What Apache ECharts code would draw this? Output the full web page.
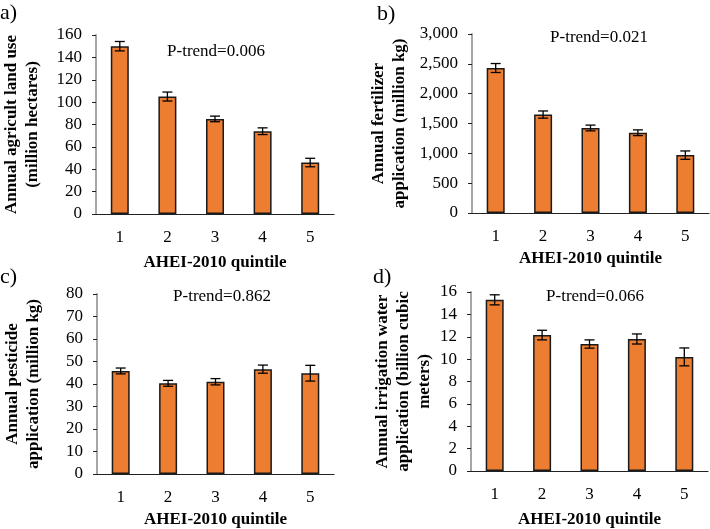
<!DOCTYPE html>
<html>
<head>
<meta charset="utf-8">
<script src="https://cdn.jsdelivr.net/npm/echarts@6/dist/echarts.min.js"></script>
<style>
    html, body { margin: 0; padding: 0; background: #fff; }
    #main { width: 710px; height: 529px; }
</style>
</head>
<body>
<div id="main"></div>
<script>
var quintiles = ['1', '2', '3', '4', '5'];

// a) land use (million hectares)
var landUse = [150, 105, 85, 74, 46];
var landUseErr = [4.2, 4, 2.5, 3, 3.8];
// b) fertilizer (million kg)
var fertilizer = [2430, 1650, 1425, 1345, 970];
var fertilizerErr = [75, 60, 48, 48, 70];
// c) pesticide (million kg)
var pesticide = [45.8, 40.3, 41.0, 46.6, 44.8];
var pesticideErr = [1.3, 1.3, 1.4, 1.8, 3.5];
// d) irrigation water (billion cubic meters)
var irrigation = [15.3, 12.15, 11.35, 11.8, 10.2];
var irrigationErr = [0.45, 0.43, 0.37, 0.45, 0.8];

var pTrends = ['P-trend=0.006', 'P-trend=0.021', 'P-trend=0.862', 'P-trend=0.066'];
var panelLabels = ['a)', 'b)', 'c)', 'd)'];
var yNames = [
    'Annual agricult land use\n(million hectares)',
    'Annual fertilizer\napplication (million kg)',
    'Annual pesticide\napplication (million kg)',
    'Annual irrigation water\napplication (billion cubic\nmeters)'
];
var yMax = [160, 3000, 80, 16];
var yStep = [20, 500, 10, 2];

var values = [landUse, fertilizer, pesticide, irrigation];
var errors = [landUseErr, fertilizerErr, pesticideErr, irrigationErr];

var font = "'Liberation Serif', 'Times New Roman', serif";
var orange = '#ED7D31';

var grids = [
    { left: 96, top: 35, width: 238, height: 179 },
    { left: 472, top: 34, width: 237, height: 179 },
    { left: 97, top: 294, width: 237, height: 182 },
    { left: 471, top: 292, width: 237, height: 183 }
];
var yNameGap = [53, 62, 53, 36];
var xNameGap = [40, 37, 37, 40];

function errorBar(params, api) {
    var x = api.coord([api.value(0), 0])[0];
    var lo = api.coord([api.value(0), api.value(1)])[1];
    var hi = api.coord([api.value(0), api.value(2)])[1];
    var cap = 5;
    var style = { stroke: '#000', lineWidth: 1.3 };
    return {
        type: 'group',
        children: [
            { type: 'line', shape: { x1: x, y1: lo, x2: x, y2: hi }, style: style },
            { type: 'line', shape: { x1: x - cap, y1: hi, x2: x + cap, y2: hi }, style: style },
            { type: 'line', shape: { x1: x - cap, y1: lo, x2: x + cap, y2: lo }, style: style }
        ]
    };
}

var xAxes = [], yAxes = [], series = [], graphics = [];
for (var i = 0; i < 4; i++) {
    xAxes.push({
        type: 'category',
        gridIndex: i,
        data: quintiles,
        name: 'AHEI-2010 quintile',
        nameLocation: 'middle',
        nameGap: xNameGap[i],
        nameTextStyle: { fontFamily: font, fontSize: 17, fontWeight: 'bold', color: '#000', verticalAlign: 'top' },
        axisLine: { lineStyle: { color: '#222', width: 1.2 } },
        axisTick: { show: false },
        axisLabel: { fontFamily: font, fontSize: 17, color: '#000', margin: 15 }
    });
    yAxes.push({
        type: 'value',
        gridIndex: i,
        min: 0,
        max: yMax[i],
        interval: yStep[i],
        name: yNames[i],
        nameLocation: 'middle',
        nameRotate: 90,
        nameGap: yNameGap[i],
        nameTextStyle: { fontFamily: font, fontSize: 17, fontWeight: 'bold', color: '#000', lineHeight: 21 },
        splitLine: { show: false },
        axisLine: { show: true, lineStyle: { color: '#a6a6a6', width: 2 } },
        axisTick: { show: true, length: 4, lineStyle: { color: '#222', width: 1 } },
        axisLabel: {
            fontFamily: font, fontSize: 17, color: '#000', margin: 14,
            formatter: function (v) { return v.toLocaleString('en-US'); }
        }
    });
    series.push({
        type: 'bar',
        xAxisIndex: i,
        yAxisIndex: i,
        data: values[i],
        barWidth: 18,
        itemStyle: { color: orange, borderColor: '#1a1a1a', borderWidth: 1.5 },
        silent: true
    });
    var errData = [];
    for (var j = 0; j < quintiles.length; j++) {
        errData.push([j, values[i][j] - errors[i][j], values[i][j] + errors[i][j]]);
    }
    series.push({
        type: 'custom',
        xAxisIndex: i,
        yAxisIndex: i,
        data: errData,
        renderItem: errorBar,
        z: 5,
        silent: true
    });
}

// P-trend notes and panel letters
var pPos = [[216, 52], [599, 38], [222, 297], [595, 297]];
var lPos = [[0, 13], [377, 14], [0, 277], [373, 277]];
for (var k = 0; k < 4; k++) {
    graphics.push({
        type: 'text',
        x: pPos[k][0], y: pPos[k][1],
        style: { text: pTrends[k], font: '17px ' + font, fill: '#000', align: 'center', verticalAlign: 'middle' }
    });
    graphics.push({
        type: 'text',
        x: lPos[k][0], y: lPos[k][1],
        style: { text: panelLabels[k], font: '22px ' + font, fill: '#000', align: 'left', verticalAlign: 'middle' }
    });
}

var myChart = echarts.init(document.getElementById('main'), null, { renderer: 'canvas' });
myChart.setOption({
    backgroundColor: '#fff',
    animation: false,
    grid: grids,
    xAxis: xAxes,
    yAxis: yAxes,
    series: series,
    graphic: graphics
});
</script>
</body>
</html>
